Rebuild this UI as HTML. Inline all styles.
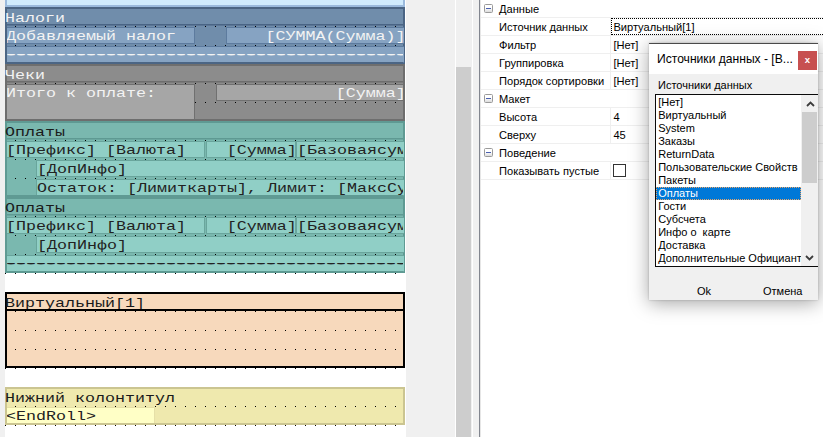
<!DOCTYPE html>
<html lang="ru"><head><meta charset="utf-8"><title>Report designer</title>
<style>
html,body{margin:0;padding:0;}
body{width:823px;height:437px;overflow:hidden;position:relative;background:#f0f0f0;font-family:"Liberation Sans",sans-serif;font-size:11px;color:#000;}
#canvas{position:absolute;left:5px;top:0;width:401px;height:437px;background:#fff;}
.bfill,.band,.memo,.mt,.abs{position:absolute;box-sizing:content-box;}
.memo{overflow:hidden;}
.mt{font-family:"Liberation Mono",monospace;font-size:13.5px;line-height:15px;white-space:pre;transform:scaleX(1.2346);}
#dots{position:absolute;left:0;top:0;}
#vsb{position:absolute;left:455px;top:0;width:16px;height:437px;background:#f0f0f0;border-left:1px solid #fff;border-right:1px solid #fff;box-sizing:content-box;}
#vsb i{position:absolute;left:0;top:67px;width:15px;height:370px;background:#cdcdcd;display:block;}
#gap{position:absolute;left:473px;top:0;width:6px;height:437px;background:#f0f0f0;}
#pgline{position:absolute;left:479px;top:0;width:1px;height:437px;background:#82868f;border-right:1px solid #e6e6e6;}
#pg{position:absolute;left:481px;top:0;width:342px;height:437px;background:#fff;}
.row{position:absolute;left:0;width:342px;height:17px;border-bottom:1px solid #efefef;}
.row .n{position:absolute;left:18px;top:1.7px;font-size:11.1px;line-height:14px;white-space:nowrap;}
.row .v{position:absolute;left:132.4px;top:1.7px;font-size:11.1px;line-height:14px;white-space:nowrap;}
.row .d{position:absolute;left:129px;top:0;width:1px;height:17px;background:#efefef;}
.cat .n{left:18px;}
.pm{position:absolute;left:3px;top:4px;width:7px;height:7px;border:1px solid #9a9a9a;background:linear-gradient(#fff 40%,#dcdcdc);border-radius:1.5px;}
.pm:after{content:"";position:absolute;left:1px;top:2.6px;width:5px;height:1.6px;background:#4a60b0;}
#popup{position:absolute;left:649px;top:43px;width:169px;height:257px;background:#f0f0f0;box-shadow:0 3px 18px rgba(0,0,0,.36),0 0 2px rgba(0,0,0,.22);overflow:hidden;}
#ptitle{position:absolute;left:0;top:0;width:169px;height:31px;background:#fff;border-top:1px solid #4a4a4a;box-sizing:border-box;}
#ptitle span{position:absolute;left:8px;top:7px;font-size:12.1px;line-height:16px;white-space:nowrap;}
#pclose{position:absolute;left:149px;top:8px;width:19px;height:19px;background:#c75050;color:#fff;text-align:center;font-size:9.5px;line-height:18px;font-weight:bold;}
#plabel{position:absolute;left:9px;top:35px;line-height:14px;white-space:nowrap;}
#plist{position:absolute;left:6px;top:51px;width:180px;height:171px;background:#fff;border:1px solid #0a0a0a;box-sizing:content-box;}
#plist div.it{position:absolute;left:0;height:13px;line-height:13px;white-space:pre;padding-left:2.2px;width:142.8px;}
#plist div.it.sel{background:#0078d7;color:#fff;outline:1px dotted #e8a66a;outline-offset:-1px;}
#psb{position:absolute;left:145px;top:0;width:17px;height:171px;background:#f0f0f0;}
#psb i{position:absolute;left:1px;top:17px;width:15px;height:71px;background:#cdcdcd;display:block;}
.btn{position:absolute;top:240.5px;line-height:14px;white-space:nowrap;}
</style></head><body>

<div id="canvas">
<div class="bfill" style="left:0px;top:-10px;width:400px;height:17px;background:#d0ebfd;"></div>
<div class="bfill" style="left:0px;top:7px;width:400px;height:57px;background:#708dab;"></div>
<div class="bfill" style="left:0px;top:64px;width:400px;height:57px;background:#8c8c8c;"></div>
<div class="bfill" style="left:0px;top:121px;width:400px;height:76px;background:#7ab8af;"></div>
<div class="bfill" style="left:0px;top:197px;width:400px;height:76px;background:#7ab8af;"></div>
<div class="bfill" style="left:0px;top:292px;width:400px;height:76px;background:#f7d9bc;"></div>
<div class="bfill" style="left:0px;top:387px;width:400px;height:38px;background:#efe9ae;"></div>
<svg id="dots" width="401" height="437"><defs><pattern id="dp" x="10" y="7" width="10" height="19" patternUnits="userSpaceOnUse"><rect x="0" y="0" width="1" height="1" fill="#000"/></pattern></defs><rect x="0" y="0" width="391" height="437" fill="url(#dp)"/></svg>
<div class="memo" style="left:0px;top:27px;width:188px;height:15px;background:#86a3c2;border:1px solid #5d7b9e;color:#f3f3f3;"><span class="mt" style="left:-0.5px;top:0.7px;transform-origin:left top;">Добавляемый налог</span></div>
<div class="memo" style="left:221px;top:27px;width:177px;height:15px;background:#86a3c2;border:1px solid #5d7b9e;color:#f3f3f3;"><span class="mt" style="right:-1.5px;top:0.7px;transform-origin:right top;">[СУММА(Сумма)]</span></div>
<div class="memo" style="left:0px;top:46px;width:398px;height:15px;background:#86a3c2;border:1px solid #5d7b9e;color:#f3f3f3;"><span class="mt" style="left:-0.5px;top:-0.5px;transform-origin:left top;text-shadow:-1.2px 0 0 #f3f3f3,1.2px 0 0 #f3f3f3,-.7px 0 0 #f3f3f3,.7px 0 0 #f3f3f3">-----------------------------------------</span></div>
<div class="memo" style="left:0px;top:84px;width:188px;height:34px;background:#a6a6a6;border:1px solid #707070;color:#f3f3f3;"><span class="mt" style="left:-0.5px;top:0.7px;transform-origin:left top;">Итого к оплате:</span></div>
<div class="memo" style="left:211px;top:84px;width:187px;height:15px;background:#a6a6a6;border:1px solid #707070;color:#f3f3f3;"><span class="mt" style="right:-1.5px;top:0.7px;transform-origin:right top;">[Сумма]</span></div>
<div class="memo" style="left:0px;top:141px;width:198px;height:15px;background:#90cfc6;border:1px solid #69a59c;color:#222;"><span class="mt" style="left:-0.5px;top:0.7px;transform-origin:left top;">[Префикс] [Валюта]</span></div>
<div class="memo" style="left:201px;top:141px;width:88px;height:15px;background:#90cfc6;border:1px solid #69a59c;color:#222;"><span class="mt" style="right:-1.5px;top:0.7px;transform-origin:right top;">[Сумма]</span></div>
<div class="memo" style="left:291px;top:141px;width:107px;height:15px;background:#90cfc6;border:1px solid #69a59c;color:#222;"><span class="mt" style="left:-0.5px;top:0.7px;transform-origin:left top;">[Базоваясумма]</span></div>
<div class="memo" style="left:31px;top:160px;width:367px;height:15px;background:#90cfc6;border:1px solid #69a59c;color:#222;"><span class="mt" style="left:-0.5px;top:0.7px;transform-origin:left top;">[ДопИнфо]</span></div>
<div class="memo" style="left:0px;top:217px;width:198px;height:15px;background:#90cfc6;border:1px solid #69a59c;color:#222;"><span class="mt" style="left:-0.5px;top:0.7px;transform-origin:left top;">[Префикс] [Валюта]</span></div>
<div class="memo" style="left:201px;top:217px;width:88px;height:15px;background:#90cfc6;border:1px solid #69a59c;color:#222;"><span class="mt" style="right:-1.5px;top:0.7px;transform-origin:right top;">[Сумма]</span></div>
<div class="memo" style="left:291px;top:217px;width:107px;height:15px;background:#90cfc6;border:1px solid #69a59c;color:#222;"><span class="mt" style="left:-0.5px;top:0.7px;transform-origin:left top;">[Базоваясумма]</span></div>
<div class="memo" style="left:31px;top:236px;width:367px;height:15px;background:#90cfc6;border:1px solid #69a59c;color:#222;"><span class="mt" style="left:-0.5px;top:0.7px;transform-origin:left top;">[ДопИнфо]</span></div>
<div class="memo" style="left:31px;top:179px;width:367px;height:15px;background:#90cfc6;border:1px solid #69a59c;color:#222;"><span class="mt" style="left:-0.5px;top:0.7px;transform-origin:left top;">Остаток: [Лимиткарты], Лимит: [МаксСумма]</span></div>
<div class="memo" style="left:0px;top:255px;width:398px;height:15px;background:#90cfc6;border:1px solid #69a59c;color:#222;"><span class="mt" style="left:-0.5px;top:-0.5px;transform-origin:left top;text-shadow:-1.2px 0 0 #222,1.2px 0 0 #222,-.7px 0 0 #222,.7px 0 0 #222">-----------------------------------------</span></div>
<div class="memo" style="left:0px;top:407px;width:148px;height:15px;background:#ffffc6;border:1px solid #e6e0a8;color:#222;"><span class="mt" style="left:-0.5px;top:0.7px;transform-origin:left top;">&lt;EndRoll&gt;</span></div>
<div class="band" style="left:0px;top:-10px;width:396px;height:13px;border:2px solid #9bbadd;"></div>
<div class="band" style="left:0px;top:7px;width:396px;height:53px;border:2px solid #4b6584;"></div><div class="abs" style="left:2px;top:24px;width:396px;height:1px;background:#4a6585"></div><div class="abs" style="left:2px;top:25px;width:396px;height:1px;background:#4a6585;opacity:.55"></div><span class="mt bt" style="left:0.3px;top:11px;color:#f3f3f3;transform-origin:left top">Налоги</span>
<div class="band" style="left:0px;top:64px;width:396px;height:53px;border:2px solid #6e6e6e;"></div><div class="abs" style="left:2px;top:81px;width:396px;height:1px;background:#6e6e6e"></div><div class="abs" style="left:2px;top:82px;width:396px;height:1px;background:#6e6e6e;opacity:.55"></div><span class="mt bt" style="left:0.3px;top:68px;color:#f3f3f3;transform-origin:left top">Чеки</span>
<div class="band" style="left:0px;top:121px;width:396px;height:72px;border:2px solid #5f9a93;"></div><div class="abs" style="left:2px;top:138px;width:396px;height:1px;background:#5f9a93"></div><div class="abs" style="left:2px;top:139px;width:396px;height:1px;background:#5f9a93;opacity:.55"></div><span class="mt bt" style="left:0.3px;top:125px;color:#1a1a1a;transform-origin:left top">Оплаты</span>
<div class="band" style="left:0px;top:197px;width:396px;height:72px;border:2px solid #5f9a93;"></div><div class="abs" style="left:2px;top:214px;width:396px;height:1px;background:#5f9a93"></div><div class="abs" style="left:2px;top:215px;width:396px;height:1px;background:#5f9a93;opacity:.55"></div><span class="mt bt" style="left:0.3px;top:201px;color:#1a1a1a;transform-origin:left top">Оплаты</span>
<div class="band" style="left:0px;top:292px;width:396px;height:72px;border:2px solid #000;"></div><span class="mt bt" style="left:0.3px;top:296px;color:#1a1a1a;transform-origin:left top">Виртуальный[1]</span>
<div class="abs" style="left:0;top:309px;width:400px;height:2px;background:#000"></div>
<div class="band" style="left:0px;top:387px;width:396px;height:34px;border:2px solid #cbc591;"></div><span class="mt bt" style="left:0.3px;top:391px;color:#1a1a1a;transform-origin:left top">Нижний колонтитул</span>
<div class="abs" style="left:398px;top:27px;width:1px;height:15px;background:#86a3c2;border-top:1px solid #5d7b9e;border-bottom:1px solid #5d7b9e"></div>
<div class="abs" style="left:398px;top:46px;width:1px;height:15px;background:#86a3c2;border-top:1px solid #5d7b9e;border-bottom:1px solid #5d7b9e"></div>
<div class="abs" style="left:398px;top:141px;width:1px;height:15px;background:#90cfc6;border-top:1px solid #69a59c;border-bottom:1px solid #69a59c"></div>
<div class="abs" style="left:398px;top:160px;width:1px;height:15px;background:#90cfc6;border-top:1px solid #69a59c;border-bottom:1px solid #69a59c"></div>
<div class="abs" style="left:398px;top:179px;width:1px;height:15px;background:#90cfc6;border-top:1px solid #69a59c;border-bottom:1px solid #69a59c"></div>
<div class="abs" style="left:398px;top:217px;width:1px;height:15px;background:#90cfc6;border-top:1px solid #69a59c;border-bottom:1px solid #69a59c"></div>
<div class="abs" style="left:398px;top:236px;width:1px;height:15px;background:#90cfc6;border-top:1px solid #69a59c;border-bottom:1px solid #69a59c"></div>
<div class="abs" style="left:398px;top:255px;width:1px;height:15px;background:#90cfc6;border-top:1px solid #69a59c;border-bottom:1px solid #69a59c"></div>
</div>
<div id="vsb"><i></i></div><div id="gap"></div><div id="pgline"></div>
<div id="pg">
<div class="row cat" style="top:0px"><span class="pm"></span><span class="n">Данные</span></div>
<div class="row" style="top:18px"><span class="n">Источник данных</span><span class="d"></span><span class="v">Виртуальный[1]</span></div>
<div class="row" style="top:36px"><span class="n">Фильтр</span><span class="d"></span><span class="v">[Нет]</span></div>
<div class="row" style="top:54px"><span class="n">Группировка</span><span class="d"></span><span class="v">[Нет]</span></div>
<div class="row" style="top:72px"><span class="n">Порядок сортировки</span><span class="d"></span><span class="v">[Нет]</span></div>
<div class="row cat" style="top:90px"><span class="pm"></span><span class="n">Макет</span></div>
<div class="row" style="top:108px"><span class="n">Высота</span><span class="d"></span><span class="v">4</span></div>
<div class="row" style="top:126px"><span class="n">Сверху</span><span class="d"></span><span class="v">45</span></div>
<div class="row cat" style="top:144px"><span class="pm"></span><span class="n">Поведение</span></div>
<div class="row" style="top:162px"><span class="n">Показывать пустые</span><span class="d"></span><span class="v"><span class="abs" style="left:0;top:0px;width:11px;height:11px;border:1px solid #333;background:#fff;display:block"></span></span></div>
<div class="abs" style="left:130px;top:18px;width:212px;height:15px;border:1px dotted #000;"></div>
</div>
<div id="popup"><div id="ptitle"><span>Источники данных - [В...</span></div><div id="pclose">x</div>
<div id="plabel">Источники данных</div>
<div id="plist">
<div class="it" style="top:1px">[Нет]</div>
<div class="it" style="top:14px">Виртуальный</div>
<div class="it" style="top:27px">System</div>
<div class="it" style="top:40px">Заказы</div>
<div class="it" style="top:53px">ReturnData</div>
<div class="it" style="top:66px">Пользовательские Свойств</div>
<div class="it" style="top:79px">Пакеты</div>
<div class="it sel" style="top:92px">Оплаты</div>
<div class="it" style="top:105px">Гости</div>
<div class="it" style="top:118px">Субсчета</div>
<div class="it" style="top:131px">Инфо о  карте</div>
<div class="it" style="top:144px">Доставка</div>
<div class="it" style="top:157px">Дополнительные Официант</div>
<div id="psb"><i></i><svg class="abs" style="left:4.5px;top:6px" width="9" height="6" viewBox="0 0 9 6"><path d="M1 5 L4.5 1.5 L8 5" fill="none" stroke="#3c3c3c" stroke-width="1.8"/></svg><svg class="abs" style="left:4px;top:160px" width="9" height="6" viewBox="0 0 9 6"><path d="M1 1 L4.5 4.5 L8 1" fill="none" stroke="#3c3c3c" stroke-width="1.8"/></svg></div>
</div>
<span class="btn" style="left:48px">Ok</span><span class="btn" style="left:114px">Отмена</span>
</div>
</body></html>
